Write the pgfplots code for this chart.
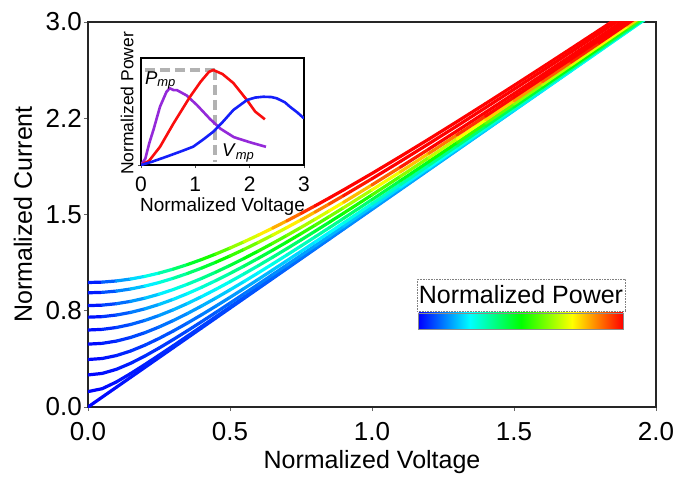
\documentclass[border=0pt]{standalone}
\usepackage{fontspec}
\setmainfont{Liberation Sans}
\usepackage{pgfplots}
\usepackage{pgfplotstable}
\pgfplotsset{compat=1.18}

% I-V sweeps: one column per illumination level
\pgfplotstableread{
V    c0     c1     c2     c3     c4     c5     c6     c7     c8     c9
0    0      0.12   0.25   0.37   0.49   0.60   0.70   0.79   0.89   0.97
0.05 0.077  0.1426 0.2616 0.3779 0.4960 0.6049 0.7042 0.7937 0.8933 0.9731
0.1  0.154  0.1952 0.2936 0.4008 0.5136 0.6194 0.7167 0.8049 0.9032 0.9822
0.15 0.231  0.2603 0.3404 0.4362 0.5417 0.6429 0.7371 0.8231 0.9195 0.9971
0.2  0.308  0.3306 0.3967 0.4814 0.5788 0.6744 0.7648 0.8479 0.9418 1.0177
0.25 0.385  0.4033 0.4590 0.5340 0.6232 0.7129 0.7989 0.8788 0.9697 1.0436
0.3  0.462  0.4773 0.5253 0.5919 0.6735 0.7573 0.8387 0.9152 1.0028 1.0744
0.35 0.539  0.5522 0.5942 0.6538 0.7284 0.8065 0.8835 0.9564 1.0405 1.1097
0.4  0.616  0.6276 0.6648 0.7186 0.7871 0.8599 0.9324 1.0018 1.0824 1.1491
0.45 0.693  0.7033 0.7367 0.7856 0.8487 0.9166 0.9850 1.0509 1.1280 1.1921
0.5  0.770  0.7793 0.8096 0.8543 0.9127 0.9762 1.0406 1.1032 1.1769 1.2385
0.55 0.847  0.8555 0.8831 0.9243 0.9785 1.0380 1.0988 1.1582 1.2286 1.2878
0.6  0.924  0.9318 0.9572 0.9953 1.0459 1.1017 1.1592 1.2157 1.2829 1.3397
0.65 1.001  1.0082 1.0318 1.0672 1.1145 1.1670 1.2215 1.2752 1.3394 1.3939
0.7  1.078  1.0847 1.1066 1.1397 1.1841 1.2337 1.2853 1.3365 1.3979 1.4502
0.75 1.155  1.1612 1.1817 1.2128 1.2546 1.3016 1.3506 1.3993 1.4581 1.5083
0.8  1.232  1.2378 1.2571 1.2864 1.3259 1.3703 1.4170 1.4635 1.5198 1.5680
0.85 1.309  1.3145 1.3327 1.3603 1.3977 1.4400 1.4844 1.5289 1.5829 1.6292
0.9  1.386  1.3912 1.4084 1.4345 1.4701 1.5103 1.5527 1.5953 1.6472 1.6917
1.0  1.540  1.5447 1.5602 1.5838 1.6161 1.6528 1.6916 1.7308 1.7787 1.8200
1.1  1.694  1.6982 1.7124 1.7339 1.7634 1.7971 1.8329 1.8692 1.9136 1.9521
1.2  1.848  1.8519 1.8648 1.8847 1.9119 1.9430 1.9761 2.0098 2.0512 2.0871
1.3  2.002  2.0056 2.0175 2.0359 2.0611 2.0900 2.1208 2.1522 2.1909 2.2246
1.4  2.156  2.1594 2.1705 2.1875 2.2110 2.2379 2.2668 2.2962 2.3325 2.3642
1.5  2.310  2.3131 2.3235 2.3394 2.3614 2.3866 2.4137 2.4414 2.4755 2.5054
1.6  2.464  2.4669 2.4767 2.4916 2.5122 2.5360 2.5615 2.5875 2.6198 2.6481
1.7  2.618  2.6207 2.6299 2.6440 2.6635 2.6859 2.7100 2.7346 2.7652 2.7919
1.8  2.772  2.7746 2.7833 2.7966 2.8150 2.8362 2.8590 2.8824 2.9114 2.9368
1.9  2.926  2.9285 2.9367 2.9493 2.9667 2.9869 3.0086 3.0308 3.0584 3.0826
2.0  3.080  3.0823 3.0901 3.1021 3.1187 3.1379 3.1586 3.1797 3.2060 3.2291
}\ivdata

% power curves for the inset
\pgfplotstableread{
V    P
0    0
0.08 0.06
0.15 0.20
0.23 0.33
0.35 0.545
0.47 0.685
0.53 0.717
0.6  0.70
0.66 0.70
0.84 0.65
1.03 0.56
1.27 0.43
1.46 0.34
1.71 0.26
2.02 0.21
2.3  0.17
}\powA
\pgfplotstableread{
V    P
0    0
0.15 0.04
0.35 0.17
0.6  0.39
0.9  0.636
1.1  0.78
1.25 0.87
1.33 0.888
1.5  0.85
1.7  0.766
1.95 0.607
2.1  0.50
2.28 0.427
}\powB
\pgfplotstableread{
V    P
0    0
0.2  0.03
0.47 0.078
0.75 0.13
0.96 0.171
1.15 0.24
1.33 0.311
1.5  0.40
1.7  0.514
1.95 0.607
2.1  0.63
2.25 0.638
2.4  0.635
2.5  0.623
2.65 0.585
2.74 0.545
2.88 0.49
3.0  0.436
}\powC

\definecolor{pviolet}{rgb}{0.58,0.16,0.85}
\definecolor{pred}{rgb}{0.98,0.05,0.05}
\definecolor{pblue}{rgb}{0.08,0.12,0.98}

\pgfdeclarehorizontalshading{powerbar}{100bp}{%
  color(0bp)=(blue); color(25bp)=(blue); color(37.5bp)=(cyan);
  color(50bp)=(green); color(62.5bp)=(yellow); color(75bp)=(red);
  color(100bp)=(red)}

\pgfplotsset{ivcurve/.style={mesh, no markers, line width=3.2pt, line cap=round, line join=round}}

\begin{document}
\begin{tikzpicture}
\begin{axis}[
  name=ax,
  scale only axis, width=568pt, height=385pt,
  xmin=0, xmax=2, ymin=0, ymax=3,
  xtick={0,0.5,1,1.5,2}, xticklabels={0.0,0.5,1.0,1.5,2.0},
  ytick={0,0.75,1.5,2.25,3}, yticklabels={0.0,0.8,1.5,2.2,3.0},
  xtick pos=bottom, ytick pos=left, tick align=outside,
  major tick length=4pt,
  axis line style={line width=1.6pt, black!85},
  tick style={line width=0.8pt, black!60},
  tick label style={font=\fontsize{26}{30}\selectfont, inner sep=2pt},
  xticklabel style={yshift=-9pt},
  label style={font=\fontsize{25}{30}\selectfont},
  xlabel style={yshift=-4pt},
  ylabel style={yshift=8pt},
  xlabel={Normalized Voltage}, ylabel={Normalized Current},
  colormap={powermap}{rgb=(0,0,1) rgb=(0,1,1) rgb=(0,1,0) rgb=(1,1,0) rgb=(1,0,0)},
  point meta min=0, point meta max=1,
]
% colour follows the delivered power of each sweep
\addplot[ivcurve, point meta={\thisrow{V}*0.13}]   table[x=V, y=c0] {\ivdata};
\addplot[ivcurve, point meta={\thisrow{V}*0.1468}] table[x=V, y=c1] {\ivdata};
\addplot[ivcurve, point meta={\thisrow{V}*0.2031}] table[x=V, y=c2] {\ivdata};
\addplot[ivcurve, point meta={\thisrow{V}*0.2902}] table[x=V, y=c3] {\ivdata};
\addplot[ivcurve, point meta={\thisrow{V}*0.4109}] table[x=V, y=c4] {\ivdata};
\addplot[ivcurve, point meta={\thisrow{V}*0.5512}] table[x=V, y=c5] {\ivdata};
\addplot[ivcurve, point meta={\thisrow{V}*0.7033}] table[x=V, y=c6] {\ivdata};
\addplot[ivcurve, point meta={\thisrow{V}*0.8602}] table[x=V, y=c7] {\ivdata};
\addplot[ivcurve, point meta={\thisrow{V}*1.0568}] table[x=V, y=c8] {\ivdata};
\addplot[ivcurve, point meta={\thisrow{V}*1.2309}] table[x=V, y=c9] {\ivdata};

% colour key
\node[draw=black!50, densely dotted, line width=0.6pt, minimum width=208pt,
      minimum height=32pt, inner sep=0pt, font=\fontsize{25}{28}\selectfont]
  at (axis cs:1.5246,0.873) {Normalized Power};
\shade[shading=powerbar, draw=black!45, line width=0.8pt]
  (axis cs:1.165,0.608) rectangle (axis cs:1.884,0.733);
\end{axis}

\begin{axis}[
  at={(ax.north west)}, anchor=north west, xshift=53pt, yshift=-36pt,
  scale only axis, width=163pt, height=107pt,
  xmin=0, xmax=3, ymin=0, ymax=1,
  xtick={0,1,2,3}, xticklabels={0,1,2,3},
  ytick={0}, yticklabels={},
  xtick pos=bottom, ytick pos=left, tick align=outside,
  major tick length=3pt,
  axis line style={line width=1.3pt, black},
  tick style={line width=0.8pt, black!70},
  tick label style={font=\fontsize{21}{24}\selectfont, inner sep=1pt},
  xticklabel style={yshift=-8pt},
  xlabel={Normalized Voltage}, ylabel={Normalized Power},
  xlabel style={font=\fontsize{19}{20}\selectfont, inner sep=0pt,
    at={(axis description cs:0.5,0)}, anchor=north, yshift=-33pt},
  ylabel style={font=\fontsize{17.5}{20}\selectfont, inner sep=0pt, yshift=2pt, xshift=8pt},
  axis background/.style={fill=white},
]
\addplot[gray!60, line width=3.4pt, dash pattern=on 10pt off 5pt]
  coordinates {(0.07,0.888) (1.36,0.888)};
\addplot[gray!60, line width=3.4pt, dash pattern=on 10pt off 5pt]
  coordinates {(1.36,0.888) (1.36,0.03)};
\addplot[pviolet, line width=2.6pt] table[x=V, y=P] {\powA};
\addplot[pred, line width=2.6pt] table[x=V, y=P] {\powB};
\addplot[pblue, line width=2.6pt] table[x=V, y=P] {\powC};
\node[anchor=west, font=\fontsize{18.5}{20}\selectfont, inner sep=0pt]
  at (axis cs:0.07,0.79) {\textit{P}\textsubscript{\textit{mp}}};
\node[anchor=west, font=\fontsize{18.5}{20}\selectfont, inner sep=0pt]
  at (axis cs:1.49,0.11) {\textit{V}\textsubscript{\textit{mp}}};
\end{axis}

\pgfresetboundingbox
\path ([shift={(-88pt,-70pt)}]ax.south west) rectangle ([shift={(19pt,22pt)}]ax.north east);
\end{tikzpicture}
\end{document}
